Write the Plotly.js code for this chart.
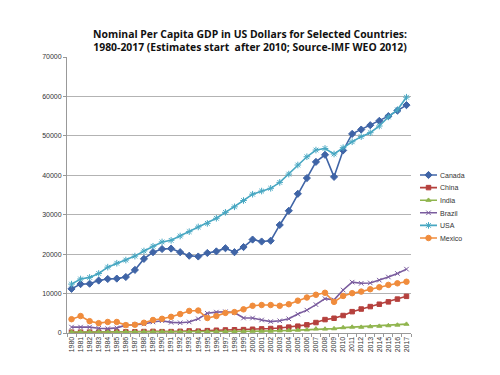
<!DOCTYPE html>
<html><head><meta charset="utf-8">
<script src="https://cdn.plot.ly/plotly-3.0.1.min.js"></script>
<style>html,body{margin:0;padding:0;background:#fff}#chart{width:500px;height:375px}</style>
</head><body><div id="chart"></div>
<script>
const years = ["1980","1981","1982","1983","1984","1985","1986","1987","1988","1989","1990","1991","1992","1993","1994","1995","1996","1997","1998","1999","2000","2001","2002","2003","2004","2005","2006","2007","2008","2009","2010","2011","2012","2013","2014","2015","2016","2017"];
const canada = [11200,12400,12500,13300,13700,13800,14200,16000,18800,20500,21300,21400,20500,19600,19400,20300,20700,21500,20500,21800,23700,23200,23400,27400,31000,35300,39300,43400,45200,39600,46300,50500,51600,52700,53800,55000,56400,57800];
const china = [200,200,210,220,250,290,280,300,370,400,340,350,420,520,470,600,700,770,820,860,950,1040,1130,1270,1490,1730,2070,2650,3400,3740,4430,5410,6080,6700,7300,7900,8600,9300];
const india = [270,270,280,290,280,300,310,340,350,350,370,310,320,300,350,380,400,420,420,450,460,470,480,560,640,730,820,1050,1020,1100,1370,1510,1490,1620,1740,1880,2030,2250];
const brazil = [1500,1500,1500,1200,1100,1300,2000,2100,2300,2800,3100,2700,2600,2800,3600,5000,5300,5400,5200,3800,3800,3300,2900,3100,3600,4800,5800,7200,8700,8400,10900,12900,12600,12700,13400,14200,15100,16200];
const usa = [12400,13700,14100,15100,16700,17700,18500,19500,20800,22000,23100,23500,24600,25700,26900,27800,29100,30600,32000,33600,35200,36000,36700,38200,40300,42600,44700,46400,46800,45400,47000,48500,49800,50800,52500,54800,56600,59800];
const mexico = [3500,4300,3000,2500,2800,2800,2000,2100,2600,3300,3600,4100,4800,5600,5700,3800,4300,5100,5300,6000,6900,7100,7100,6900,7300,8200,9000,9700,10200,7900,9400,10100,10500,11100,11600,12200,12600,13000];
const yTicks = [0,10000,20000,30000,40000,50000,60000,70000];

const series = [
  {name:"Canada", y:canada, color:"#3f64a6", symbol:"diamond", size:5.5},
  {name:"China", y:china, color:"#b5403d", symbol:"square", size:4.5},
  {name:"India", y:india, color:"#90b54e", symbol:"triangle-up", size:4.5},
  {name:"Brazil", y:brazil, color:"#7a5c9e", symbol:"x-thin-open", size:4.5},
  {name:"USA", y:usa, color:"#47a7c2", symbol:"asterisk-open", size:5.5},
  {name:"Mexico", y:mexico, color:"#f08c3c", symbol:"circle", size:5.5}
];
const data = series.map(s => ({
  type:"scatter", mode:"lines+markers", name:s.name, x:years, y:s.y,
  line:{color:s.color, width:1.6},
  marker:{symbol:s.symbol, size:s.size, color:s.color, line:{color:s.color, width:1}}
}));
const layout = {
  width:500, height:375,
  margin:{l:67, r:89, t:57, b:42},
  paper_bgcolor:"#fff", plot_bgcolor:"#fff",
  font:{family:"Liberation Sans, Arial, sans-serif", color:"#333"},
  title:{text:"<b>Nominal Per Capita GDP in US Dollars for Selected Countries:<br>1980-2017 (Estimates start  after 2010; Source-IMF WEO 2012)</b>",
    font:{size:10.4, color:"#111", family:"Open Sans, Liberation Sans, sans-serif"}, x:0.5, xanchor:"center", y:0.9, yanchor:"middle"},
  xaxis:{type:"category", range:[-0.5,37.5], tickangle:-90, tickfont:{size:7, color:"#333"},
    showgrid:false, showline:true, linecolor:"#999", linewidth:1, ticks:"outside", tickson:"boundaries", ticklen:3, tickcolor:"#999"},
  yaxis:{range:[0,70000], tickvals:yTicks, ticktext:yTicks.map(String), tickfont:{size:7, color:"#333"},
    showgrid:true, gridcolor:"#b3b3b3", gridwidth:1, showline:true, linecolor:"#999", ticks:"outside", ticklen:3, tickcolor:"#999", zeroline:false},
  legend:{x:1.02, y:0.6, xanchor:"left", yanchor:"top", font:{size:7, color:"#333"}, bgcolor:"rgba(0,0,0,0)", itemwidth:30, tracegroupgap:0},
  showlegend:true
};
Plotly.newPlot("chart", data, layout, {staticPlot:true, displayModeBar:false}).then(gd => {
  // compact the legend to match the reference's tight spacing
  const items = gd.querySelectorAll('.legend .traces');
  const legendG = gd.querySelector('.legend');
  let base = 0;
  if (items.length) {
    const m = /translate\(\s*[-\d.]+\s*,\s*([-\d.]+)/.exec(items[0].getAttribute('transform') || '');
    if (m) base = parseFloat(m[1]);
  }
  if (legendG) legendG.setAttribute('transform', 'translate(416,' + (175 - base) + ')');
  items.forEach((g, i) => {
    g.setAttribute('transform', 'translate(0,' + (base + i * 12.6) + ')');
    g.querySelectorAll('.legendlines path').forEach(p => p.setAttribute('d', 'M4,0h17'));
    g.querySelectorAll('.legendpoints path').forEach(p => p.setAttribute('transform', 'translate(12.5,0)'));
    const t = g.querySelector('text.legendtext');
    if (t) { t.setAttribute('x', 24); }
  });
  const bg = gd.querySelector('.legend .bg');
  if (bg) bg.setAttribute('height', 0);
});
</script></body></html>
